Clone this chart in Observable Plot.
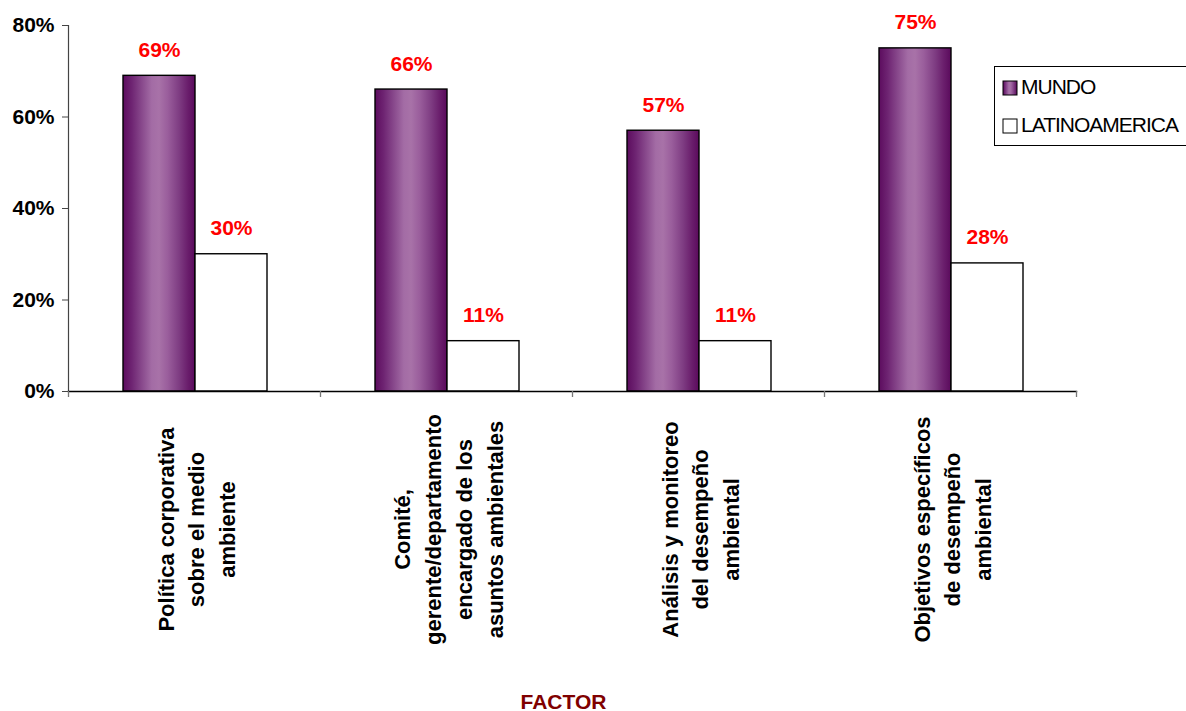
<!DOCTYPE html>
<html>
<head>
<meta charset="utf-8">
<script src="https://cdn.jsdelivr.net/npm/d3@7"></script>
<script src="https://cdn.jsdelivr.net/npm/@observablehq/plot@0.6"></script>
<style>
  body { margin: 0; background: #fff; font-family: "Liberation Sans", Arial, sans-serif; }
  #wrap { position: relative; width: 1186px; height: 711px; overflow: hidden; }
  #legend { position: absolute; left: 994px; top: 66px; }
</style>
</head>
<body>
<div id="wrap">
  <div id="chart"></div>
  <svg id="legend" width="200" height="81"></svg>
</div>
<script>
// ---- data ----
const categories = [
  "Política corporativa\nsobre el medio\nambiente",
  "Comité,\ngerente/departamento\nencargado de los\nasuntos ambientales",
  "Análisis y monitoreo\ndel desempeño\nambiental",
  "Objetivos específicos\nde desempeño\nambiental"
];
const seriesNames = ["MUNDO", "LATINOAMERICA"];
const mundo = [0.69, 0.66, 0.57, 0.75];
const latinoamerica = [0.30, 0.11, 0.11, 0.28];
const yTicks = [0, 0.2, 0.4, 0.6, 0.8];
const axisTitle = "FACTOR";

const rowsMundo = categories.map((c, i) => ({category: c, series: seriesNames[0], value: mundo[i]}));
const rowsLatino = categories.map((c, i) => ({category: c, series: seriesNames[1], value: latinoamerica[i]}));

const font = "'Liberation Sans', Arial, sans-serif";
const pct = d => Math.round(d * 100) + "%";

const chart = Plot.plot({
  width: 1186,
  height: 711,
  marginLeft: 68,
  marginRight: 110,
  marginTop: 25,
  marginBottom: 320,
  style: {fontFamily: font, background: "transparent", color: "#000", overflow: "visible"},
  x: {type: "band", domain: categories, padding: 0, axis: null},
  y: {domain: [0, 0.8], axis: null},
  marks: [
    Plot.barY(rowsMundo, {x: "category", y: "value", insetLeft: 55, insetRight: 125,
      fill: "url(#mundoGrad)", stroke: "#000", strokeWidth: 1.4}),
    Plot.barY(rowsLatino, {x: "category", y: "value", insetLeft: 127, insetRight: 53,
      fill: "#fff", stroke: "#000", strokeWidth: 1.4}),
    Plot.frame({anchor: "left", stroke: "#444", strokeWidth: 1.2}),
    Plot.frame({anchor: "bottom", stroke: "#000", strokeWidth: 1.4}),
    Plot.ruleX(categories, {x: d => d, dx: -126, insetTop: 366, insetBottom: -6, stroke: "#777", strokeWidth: 1.3}),
    Plot.ruleX(categories.slice(-1), {x: d => d, dx: 126, insetTop: 366, insetBottom: -6, stroke: "#777", strokeWidth: 1.3}),
    Plot.axisY({ticks: yTicks, tickFormat: pct, tickSize: 6, tickPadding: 8, label: null,
      fontSize: 21, fontWeight: "bold", stroke: "#444"}),
    Plot.text(rowsMundo, {x: "category", y: "value", text: d => pct(d.value), dx: -35, dy: -19,
      lineAnchor: "bottom", fill: "#ff0000", fontSize: 21, fontWeight: "bold"}),
    Plot.text(rowsLatino, {x: "category", y: "value", text: d => pct(d.value), dx: 37, dy: -19,
      lineAnchor: "bottom", fill: "#ff0000", fontSize: 21, fontWeight: "bold"}),
    Plot.text(categories, {x: d => d, text: d => d, frameAnchor: "bottom", dy: 138, rotate: -90,
      textAnchor: "middle", lineAnchor: "middle", lineHeight: 1.4, fontSize: 22, fontWeight: "bold", fill: "#000"}),
    Plot.text([axisTitle], {text: d => d, frameAnchor: "bottom", dx: -9, dy: 317, lineAnchor: "bottom",
      fill: "#800000", fontSize: 21, fontWeight: "bold"})
  ]
});

// gradient for the MUNDO bars
function addGradient(svgSel, id) {
  const defs = svgSel.insert("defs", ":first-child");
  const g = defs.append("linearGradient").attr("id", id).attr("x1", "0").attr("x2", "1").attr("y1", "0").attr("y2", "0");
  [[0, "#5c0c5e"], [0.12, "#6e2472"], [0.25, "#86468a"], [0.4, "#a36ca5"], [0.5, "#a872a8"],
   [0.62, "#9a5e9c"], [0.78, "#7e3c82"], [0.9, "#6a1e6c"], [1, "#5a0a5c"]]
    .forEach(([o, c]) => g.append("stop").attr("offset", o).attr("stop-color", c));
}
addGradient(d3.select(chart), "mundoGrad");
document.getElementById("chart").appendChild(chart);

// legend
const leg = d3.select("#legend");
addGradient(leg, "mundoGradLeg");
leg.append("rect").attr("x", 0.5).attr("y", 0.5).attr("width", 230).attr("height", 79)
  .attr("fill", "#fff").attr("stroke", "#000").attr("stroke-width", 1);
const swFill = ["url(#mundoGradLeg)", "#fff"];
seriesNames.forEach((s, i) => {
  const y = 15 + i * 38;
  leg.append("rect").attr("x", 9).attr("y", y).attr("width", 14).attr("height", 14)
    .attr("fill", swFill[i]).attr("stroke", "#000").attr("stroke-width", 1);
  leg.append("text").attr("x", 27).attr("y", y + 13).attr("font-family", font)
    .attr("font-size", 21).attr("letter-spacing", "-1px").attr("fill", "#000").text(s);
});
</script>
</body>
</html>
